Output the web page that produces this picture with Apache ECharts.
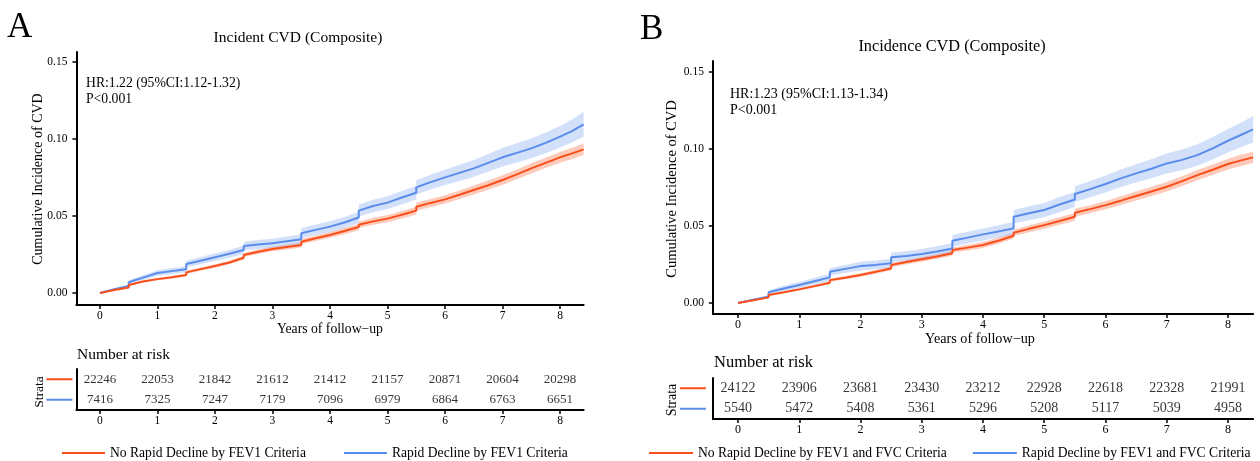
<!DOCTYPE html>
<html><head><meta charset="utf-8">
<script src="https://cdn.jsdelivr.net/npm/echarts@6/dist/echarts.min.js"></script>
<style>html,body{margin:0;padding:0;background:#fff}#c{width:1260px;height:461px}</style>
</head><body><div id="c"></div>
<script>
// ---------- data ----------
const times = [0,0.25,0.5,0.5,0.75,1,1.25,1.5,1.5,1.75,2,2.25,2.5,2.5,2.75,3,3.25,3.5,3.5,3.75,4,4.25,4.5,4.5,4.75,5,5.25,5.5,5.5,5.75,6,6.25,6.5,6.75,7,7.25,7.5,7.75,8,8.2,8.41];

const rapidA = [0,0.0025,0.0045,0.007,0.010,0.013,0.0142,0.0154,0.0188,0.021,0.0232,0.0255,0.0279,0.0305,0.0315,0.0323,0.0336,0.0349,0.0388,0.041,0.0431,0.0458,0.049,0.0535,0.0565,0.0587,0.062,0.0651,0.0686,0.072,0.0751,0.078,0.0809,0.0845,0.0881,0.091,0.0939,0.0975,0.1015,0.105,0.1095];
const noRapidA = [0,0.002,0.0035,0.0052,0.0075,0.009,0.0102,0.0117,0.0134,0.0155,0.0175,0.0198,0.0229,0.0247,0.0268,0.0286,0.0299,0.0312,0.0333,0.0355,0.0377,0.0402,0.0428,0.0443,0.0465,0.0483,0.0508,0.0535,0.056,0.0585,0.0608,0.0638,0.0669,0.07,0.0734,0.077,0.0809,0.0845,0.0881,0.0905,0.0933];
const rapidHalfCIA = [0,0.0006,0.001,0.0012,0.0015,0.0018,0.002,0.002,0.0022,0.0023,0.0025,0.0026,0.0027,0.0028,0.0029,0.003,0.0031,0.0032,0.0033,0.0034,0.0035,0.0036,0.0037,0.0039,0.004,0.0041,0.0043,0.0044,0.0046,0.0048,0.005,0.0052,0.0054,0.0057,0.006,0.0062,0.0064,0.0067,0.007,0.0075,0.008];
const noRapidHalfCIA = [0,0.0003,0.0005,0.0006,0.0007,0.0008,0.0009,0.0009,0.001,0.001,0.0011,0.0012,0.0012,0.0013,0.0014,0.0015,0.0016,0.0016,0.0017,0.0018,0.0019,0.002,0.002,0.0021,0.0022,0.0023,0.0024,0.0025,0.0026,0.0026,0.0027,0.0028,0.0029,0.003,0.0031,0.0032,0.0033,0.0034,0.0035,0.0036,0.0037];

const rapidB = [0,0.0022,0.0041,0.007,0.0095,0.0117,0.0142,0.0167,0.0203,0.0222,0.024,0.0248,0.0258,0.0297,0.0305,0.0318,0.0335,0.0355,0.0405,0.0425,0.0446,0.0465,0.0485,0.056,0.0583,0.0604,0.064,0.0673,0.0708,0.074,0.0773,0.081,0.0842,0.0872,0.0907,0.093,0.0961,0.1005,0.1054,0.109,0.1128];
const noRapidB = [0,0.0018,0.0037,0.0052,0.007,0.0089,0.011,0.0132,0.0149,0.0165,0.0182,0.0203,0.0225,0.0247,0.0266,0.0284,0.0303,0.0323,0.0344,0.036,0.0377,0.0405,0.0437,0.0457,0.0482,0.0506,0.0533,0.056,0.0586,0.061,0.0636,0.0665,0.0695,0.0725,0.0755,0.0792,0.0831,0.0866,0.0903,0.0925,0.0946];
const rapidHalfCIB = [0,0.0007,0.0011,0.0013,0.0017,0.002,0.0022,0.0023,0.0025,0.0026,0.0028,0.0029,0.003,0.0031,0.0032,0.0033,0.0034,0.0035,0.0037,0.0038,0.0039,0.004,0.0041,0.0044,0.0045,0.0046,0.0048,0.0049,0.0051,0.0053,0.0055,0.0057,0.0059,0.0062,0.0065,0.0068,0.007,0.0073,0.0076,0.008,0.0085];
const noRapidHalfCIB = [0,0.0003,0.0005,0.0006,0.0007,0.0008,0.0009,0.0009,0.001,0.001,0.0011,0.0012,0.0012,0.0013,0.0014,0.0015,0.0016,0.0016,0.0017,0.0018,0.0019,0.002,0.002,0.0021,0.0022,0.0023,0.0024,0.0025,0.0026,0.0026,0.0027,0.0028,0.0029,0.003,0.0031,0.0032,0.0033,0.0034,0.0035,0.0036,0.0036];

const riskTimes = [0,1,2,3,4,5,6,7,8];
const riskNoA  = [22246,22053,21842,21612,21412,21157,20871,20604,20298];
const riskYesA = [7416,7325,7247,7179,7096,6979,6864,6763,6651];
const riskNoB  = [24122,23906,23681,23430,23212,22928,22618,22328,21991];
const riskYesB = [5540,5472,5408,5361,5296,5208,5117,5039,4958];

const xTicks = [0,1,2,3,4,5,6,7,8];
const yTicks = [0,0.05,0.10,0.15];

const namesA = ['No Rapid Decline by FEV1 Criteria','Rapid Decline by FEV1 Criteria'];
const namesB = ['No Rapid Decline by FEV1 and FVC Criteria','Rapid Decline by FEV1 and FVC Criteria'];

// ---------- styling ----------
const RED = '#FB4F1B', BLUE = '#5A8CEB';
const RED_BAND = 'rgba(251,79,27,0.30)', BLUE_BAND = 'rgba(90,140,235,0.27)';
const FONT = '"Liberation Serif","Times New Roman",serif';

const chart = echarts.init(document.getElementById('c'), null, {renderer:'canvas'});

function mainX(gi, fs){
  return {gridIndex:gi, type:'value', min:-0.41, max:8.41,
    axisLine:{show:true, onZero:false, lineStyle:{color:'#000', width:2}},
    axisTick:{show:true, customValues:xTicks, length:4, lineStyle:{color:'#000', width:1.5}},
    axisLabel:{show:true, customValues:xTicks, margin:5, fontSize:fs, fontFamily:FONT, color:'#000'},
    splitLine:{show:false}};
}
function mainY(gi, mn, mx){
  return {gridIndex:gi, type:'value', min:mn, max:mx,
    axisLine:{show:true, onZero:false, lineStyle:{color:'#000', width:2}},
    axisTick:{show:true, customValues:yTicks, length:4, lineStyle:{color:'#000', width:1.5}},
    axisLabel:{show:true, customValues:yTicks, margin:9, fontSize:11.5, fontFamily:FONT, color:'#000',
      formatter:v=>Number(v).toFixed(2)},
    splitLine:{show:false}};
}
function tableY(gi, margin){
  return {gridIndex:gi, type:'category', data:['yes','no'],
    axisLine:{show:true, onZero:false, lineStyle:{color:'#000', width:2}},
    axisTick:{show:false},
    axisLabel:{show:true, margin:margin, formatter:v=> v==='no' ? '{r|}' : '{b|}',
      rich:{r:{width:26, height:2, lineHeight:2, backgroundColor:RED},
            b:{width:26, height:2, lineHeight:2, backgroundColor:BLUE}}},
    splitLine:{show:false}};
}

// confidence band drawn as one polygon through the axis scales
function band(gi, vals, half, color){
  return {type:'custom', xAxisIndex:gi, yAxisIndex:gi, silent:true, z:1,
    data:[[0,0]],
    renderItem:function(params, api){
      const up = times.map((t,i)=>api.coord([t, vals[i]+half[i]]));
      const lo = times.map((t,i)=>api.coord([t, Math.max(vals[i]-half[i], 0)])).reverse();
      return {type:'polygon', shape:{points:up.concat(lo)}, style:{fill:color}};
    }};
}
function curve(gi, name, vals, color, z){
  return {type:'line', name:name, xAxisIndex:gi, yAxisIndex:gi, symbol:'none', z:z,
    color:color, itemStyle:{color:color}, lineStyle:{color:color, width:2},
    data: times.map((t,i)=>[t, vals[i]])};
}
function risk(gi, row, nums, fs){
  return {type:'scatter', xAxisIndex:gi, yAxisIndex:gi, symbolSize:0, silent:true,
    data: riskTimes.map((t,i)=>[t, row, nums[i]]),
    label:{show:true, position:'inside', formatter:p=>String(p.value[2]),
      fontSize:fs, fontFamily:FONT, color:'#000'}};
}

function txt(x, y, s, size, align, rot){
  return {type:'text', x:x, y:y, rotation:rot||0, silent:true,
    style:{text:s, fontSize:size, fontFamily:FONT, fill:'#000',
      align:align||'left', textAlign:align||'left', verticalAlign:'middle', textVerticalAlign:'middle'}};
}

const option = {
  animation:false,
  backgroundColor:'#fff',
  grid:[
    {left:76.4, top:52, width:507.2, height:253, outerBoundsMode:'none', containLabel:false},
    {left:76.4, top:369, width:507.2, height:41, outerBoundsMode:'none', containLabel:false},
    {left:712.9, top:61, width:540.2, height:253, outerBoundsMode:'none', containLabel:false},
    {left:712.9, top:378, width:540.2, height:41, outerBoundsMode:'none', containLabel:false}
  ],
  xAxis:[mainX(0, 11.5), mainX(1, 11.5), mainX(2, 12), mainX(3, 12)],
  yAxis:[mainY(0,-0.0078,0.1565), tableY(1, 4), mainY(2,-0.0071,0.1572), tableY(3, 7)],
  legend:[
    {left:62, top:446, padding:0, icon:'rect', itemWidth:43, itemHeight:2, itemGap:38, data:namesA,
     selectedMode:false, textStyle:{fontSize:13.6, fontFamily:FONT, color:'#000'}},
    {left:649, top:446, padding:0, icon:'rect', itemWidth:44, itemHeight:2, itemGap:26, data:namesB,
     selectedMode:false, textStyle:{fontSize:13.6, fontFamily:FONT, color:'#000'}}
  ],
  graphic:[
    txt(7, 28, 'A', 35),
    txt(640, 30, 'B', 35),
    txt(298, 38, 'Incident CVD (Composite)', 15.5, 'center'),
    txt(952, 47, 'Incidence CVD (Composite)', 16.3, 'center'),
    txt(86, 83, 'HR:1.22 (95%CI:1.12-1.32)', 13.7),
    txt(86, 99, 'P<0.001', 13.7),
    txt(730, 94, 'HR:1.23 (95%CI:1.13-1.34)', 14),
    txt(730, 110, 'P<0.001', 14),
    txt(38, 179, 'Cumulative Incidence of CVD', 14, 'center', Math.PI/2),
    txt(672, 189, 'Cumulative Incidence of CVD', 14.5, 'center', Math.PI/2),
    txt(330, 329, 'Years of follow\u2212up', 13.7, 'center'),
    txt(980, 339, 'Years of follow\u2212up', 14.2, 'center'),
    txt(77, 355, 'Number at risk', 15.5),
    txt(714, 363, 'Number at risk', 16.5),
    txt(39, 392, 'Strata', 13.5, 'center', Math.PI/2),
    txt(672, 400, 'Strata', 14, 'center', Math.PI/2)
  ],
  series:[
    band(0, noRapidA, noRapidHalfCIA, RED_BAND),
    band(0, rapidA, rapidHalfCIA, BLUE_BAND),
    curve(0, namesA[1], rapidA, BLUE, 3),
    curve(0, namesA[0], noRapidA, RED, 4),
    risk(1, 'no', riskNoA, 13),
    risk(1, 'yes', riskYesA, 13),
    band(2, noRapidB, noRapidHalfCIB, RED_BAND),
    band(2, rapidB, rapidHalfCIB, BLUE_BAND),
    curve(2, namesB[1], rapidB, BLUE, 3),
    curve(2, namesB[0], noRapidB, RED, 4),
    risk(3, 'no', riskNoB, 14),
    risk(3, 'yes', riskYesB, 14)
  ]
};
chart.setOption(option);
</script>
</body></html>
